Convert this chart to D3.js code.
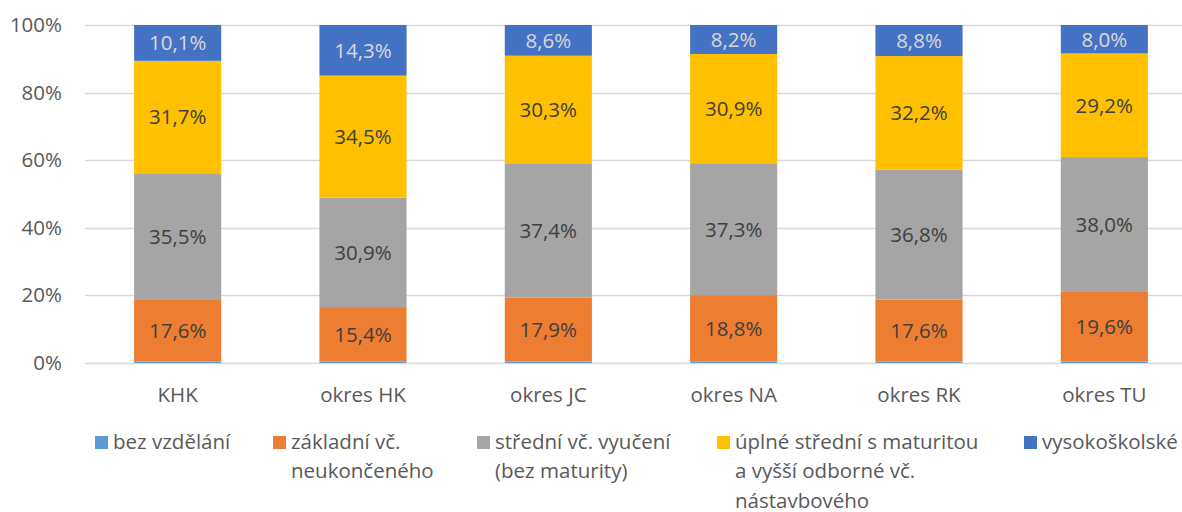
<!DOCTYPE html>
<html><head><meta charset="utf-8">
<script src="https://cdn.jsdelivr.net/npm/d3@7"></script>
<style>body{margin:0;background:#fff}svg{display:block}text{font-family:"Open Sans",Lato,sans-serif}</style>
</head><body>
<svg id="c" width="1182" height="512"></svg>
<script>
const categories = ["KHK","okres HK","okres JC","okres NA","okres RK","okres TU"];
const seriesNames = ["bez vzdělání","základní vč. neukončeného","střední vč. vyučení (bez maturity)","úplné střední s maturitou a vyšší odborné vč. nástavbového","vysokoškolské"];
const legendLines = [["bez vzdělání"],["základní vč.","neukončeného"],["střední vč. vyučení","(bez maturity)"],["úplné střední s maturitou","a vyšší odborné vč.","nástavbového"],["vysokoškolské"]];
const bezVzdelani = [0.4,0.4,0.4,0.4,0.4,0.4];
const zakladni = [17.6,15.4,17.9,18.8,17.6,19.6];
const stredni = [35.5,30.9,37.4,37.3,36.8,38.0];
const uplne = [31.7,34.5,30.3,30.9,32.2,29.2];
const vysoke = [10.1,14.3,8.6,8.2,8.8,8.0];
const yTicks = [0,0.2,0.4,0.6,0.8,1.0];
const colors = ["#5B9BD5","#ED7D31","#A5A5A5","#FFC000","#4472C4"];
const labelColors = [null,"#404040","#404040","#404040","#D9D9D9"];

const seriesArrays = [bezVzdelani,zakladni,stredni,uplne,vysoke];
const keys = seriesNames.map((d,i)=>"s"+i);
const table = categories.map((c,j)=>{const o={cat:c};keys.forEach((k,i)=>o[k]=seriesArrays[i][j]);return o;});
const stacked = d3.stack().keys(keys).offset(d3.stackOffsetExpand)(table);

const FS = 20.5;
const svg = d3.select("#c");
const x = d3.scaleBand().domain(categories).range([85,1197]).paddingInner(0.53).paddingOuter(0.265);
const y = d3.scaleLinear().domain([0,1]).range([363,25]);

// grid
svg.append("g").selectAll("line").data(yTicks).join("line")
  .attr("x1",85).attr("x2",1182).attr("y1",d=>Math.round(y(d))+0.5).attr("y2",d=>Math.round(y(d))+0.5)
  .attr("stroke","#D9D9D9").attr("stroke-width",1.5);

// y axis labels
const yAxis = d3.axisLeft(y).tickValues(yTicks).tickFormat(d=>Math.round(d*100)+"%").tickSize(0).tickPadding(0);
const ya = svg.append("g").attr("transform","translate(62,0)").call(yAxis);
ya.select(".domain").remove();
ya.selectAll("text").attr("font-size",FS).attr("fill","#595959").attr("font-family","'Open Sans',sans-serif");

// bars
stacked.forEach((s,i)=>{
  svg.append("g").attr("fill",colors[i]).selectAll("rect").data(s).join("rect")
    .attr("x",d=>x(d.data.cat)).attr("width",x.bandwidth())
    .attr("y",d=>y(d[1])).attr("height",d=>Math.max(0.8,y(d[0])-y(d[1])));
  if(labelColors[i]){
    svg.append("g").selectAll("text").data(s).join("text")
      .attr("x",d=>x(d.data.cat)+x.bandwidth()/2).attr("y",d=>(y(d[0])+y(d[1]))/2)
      .attr("dy","0.36em").attr("text-anchor","middle").attr("font-size",FS).attr("fill",labelColors[i])
      .text((d,j)=>seriesArrays[i][j].toFixed(1).replace(".",",")+"%");
  }
});

// x axis
const xAxis = d3.axisBottom(x).tickSize(0).tickPadding(0);
const xa = svg.append("g").attr("transform","translate(0,402)").call(xAxis);
xa.select(".domain").remove();
xa.selectAll("text").attr("font-size",FS).attr("fill","#595959").attr("dy","0").attr("font-family","'Open Sans',sans-serif");

// legend
const legX = [95,273,477,717,1024];
const leg = svg.append("g");
legendLines.forEach((lines,i)=>{
  const g = leg.append("g").attr("transform",`translate(${legX[i]},0)`);
  g.append("rect").attr("x",0).attr("y",436).attr("width",13).attr("height",13).attr("fill",colors[i]);
  lines.forEach((t,k)=>{
    g.append("text").attr("x",18).attr("y",448.5+k*29.5).attr("font-size",FS).attr("fill","#595959").text(t);
  });
});
</script>
</body></html>
